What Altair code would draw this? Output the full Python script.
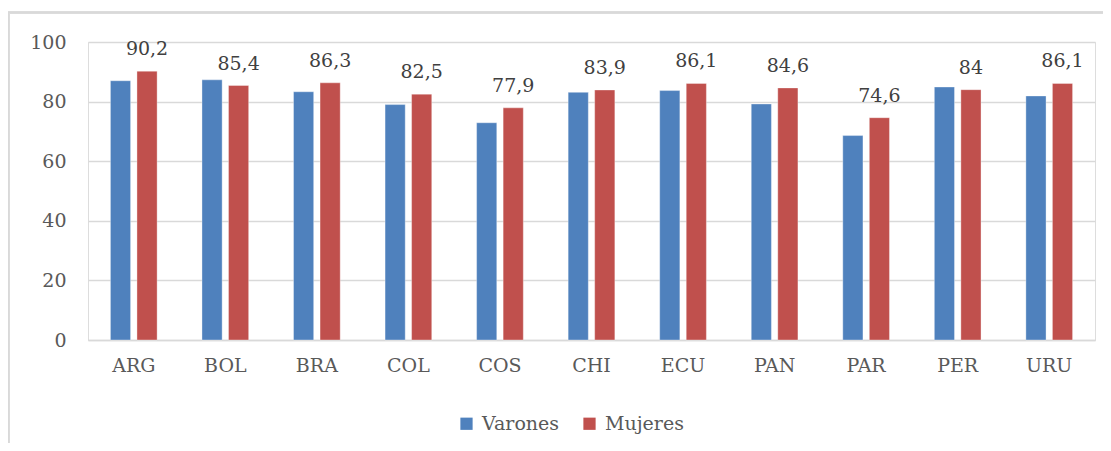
import altair as alt
import pandas as pd

paises = ["ARG", "BOL", "BRA", "COL", "COS", "CHI", "ECU", "PAN", "PAR", "PER", "URU"]
varones = [87.0, 87.3, 83.3, 79.0, 72.9, 83.1, 83.7, 79.2, 68.6, 84.9, 81.9]
mujeres = [90.2, 85.4, 86.3, 82.5, 77.9, 83.9, 86.1, 84.6, 74.6, 84.0, 86.1]
series = ["Varones", "Mujeres"]
colores = ["#4F81BD", "#C0504D"]
y_ticks = [0, 20, 40, 60, 80, 100]


def etiqueta(v):
    s = f"{v:.1f}".replace(".", ",")
    return s[:-2] if s.endswith(",0") else s


rows = []
for p, v, m in zip(paises, varones, mujeres):
    rows.append({"pais": p, "sexo": "Varones", "valor": v, "lab": etiqueta(v)})
    rows.append({"pais": p, "sexo": "Mujeres", "valor": m, "lab": etiqueta(m)})
df = pd.DataFrame(rows)

FONT = "DejaVu Serif"
W, H = 1007, 298

x_enc = alt.X("pais:N", sort=paises, title=None,
              scale=alt.Scale(paddingInner=0.49, paddingOuter=0.245),
              axis=alt.Axis(labelAngle=0, labelFont=FONT, labelFontSize=19,
                            labelColor="#595959", labelPadding=16, ticks=False,
                            domain=True, domainColor="#D9D9D9", domainWidth=1.5,
                            grid=False))
xo_enc = alt.XOffset("sexo:N", scale=alt.Scale(domain=series, paddingInner=0.24))

bars = alt.Chart(df).mark_bar(stroke="#FFFFFF", strokeOpacity=0.35, strokeWidth=1).encode(
    x=x_enc,
    xOffset=xo_enc,
    y=alt.Y("valor:Q", title=None,
            scale=alt.Scale(domain=[0, 100], nice=False),
            axis=alt.Axis(values=y_ticks, labelFont=FONT, labelFontSize=19,
                          labelColor="#595959", labelPadding=22, ticks=False,
                          domain=False, grid=True, gridColor="#D9D9D9",
                          gridWidth=1.5)),
    color=alt.Color("sexo:N", sort=series,
                    scale=alt.Scale(domain=series, range=colores),
                    legend=alt.Legend(title=None, orient="none", direction="horizontal",
                                      legendX=369, legendY=372,
                                      symbolType="square", symbolSize=150,
                                      symbolStrokeWidth=0, labelFont=FONT,
                                      labelFontSize=19, labelColor="#595959",
                                      labelOffset=6, columnPadding=20)),
)

labels = alt.Chart(df).transform_filter(alt.datum.sexo == "Mujeres").mark_text(
    font=FONT, fontSize=19, color="#404040", baseline="alphabetic", dy=-16
).encode(
    x=alt.X("pais:N", sort=paises),
    xOffset=xo_enc,
    y="valor:Q",
    text="lab:N",
)

frame_top = alt.Chart(df).mark_rule(color="#D9D9D9", strokeWidth=1.5).encode(
    x=alt.value(-80), x2=alt.value(W + 8), y=alt.value(-29.5)
)
frame_left = alt.Chart(df).mark_rule(color="#D9D9D9", strokeWidth=1.5).encode(
    x=alt.value(-79.5), y=alt.value(-29.5), y2=alt.value(H + 103)
)

chart = alt.layer(frame_top, frame_left, bars, labels).properties(
    width=W, height=H,
    autosize=alt.AutoSizeParams(type="none"),
    padding={"left": 80, "top": 34, "right": 8, "bottom": 103},
).configure_view(stroke=None).configure(background="white")

chart.save("out.html", embed_options={"renderer": "svg", "actions": False})
